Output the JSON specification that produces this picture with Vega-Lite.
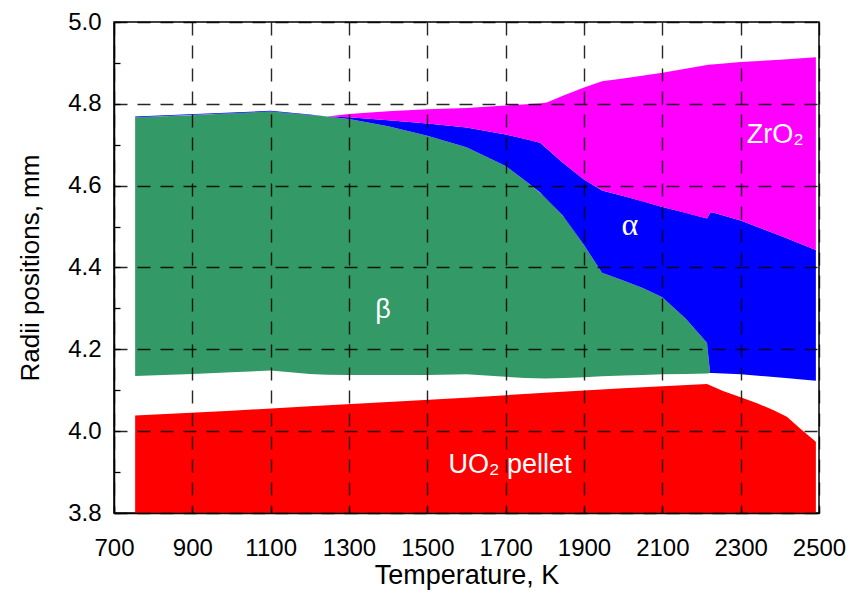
{
  "$schema": "https://vega.github.io/schema/vega-lite/v6.json",
  "width": 705,
  "height": 491,
  "autosize": {"type": "none"},
  "padding": {"left": 114, "top": 22, "right": 34, "bottom": 82},
  "background": "white",
  "config": {"view": {"stroke": "black", "strokeWidth": 1.5}, "font": "Liberation Sans"},
  "datasets": {
    "regions": [
      {"region": "UO2 pellet", "T": 754, "lo": 3.8, "hi": 4.038},
      {"region": "UO2 pellet", "T": 1000, "lo": 3.8, "hi": 4.050},
      {"region": "UO2 pellet", "T": 1200, "lo": 3.8, "hi": 4.061},
      {"region": "UO2 pellet", "T": 1400, "lo": 3.8, "hi": 4.071},
      {"region": "UO2 pellet", "T": 1609, "lo": 3.8, "hi": 4.082},
      {"region": "UO2 pellet", "T": 1800, "lo": 3.8, "hi": 4.094},
      {"region": "UO2 pellet", "T": 2000, "lo": 3.8, "hi": 4.105},
      {"region": "UO2 pellet", "T": 2214, "lo": 3.8, "hi": 4.115},
      {"region": "UO2 pellet", "T": 2255, "lo": 3.8, "hi": 4.098},
      {"region": "UO2 pellet", "T": 2300, "lo": 3.8, "hi": 4.083},
      {"region": "UO2 pellet", "T": 2342, "lo": 3.8, "hi": 4.068},
      {"region": "UO2 pellet", "T": 2383, "lo": 3.8, "hi": 4.052},
      {"region": "UO2 pellet", "T": 2418, "lo": 3.8, "hi": 4.035},
      {"region": "UO2 pellet", "T": 2451, "lo": 3.8, "hi": 4.007},
      {"region": "UO2 pellet", "T": 2492, "lo": 3.8, "hi": 3.974},

      {"region": "beta", "T": 754, "lo": 4.135, "hi": 4.767},
      {"region": "beta", "T": 900, "lo": 4.140, "hi": 4.772},
      {"region": "beta", "T": 1000, "lo": 4.144, "hi": 4.777},
      {"region": "beta", "T": 1100, "lo": 4.148, "hi": 4.781},
      {"region": "beta", "T": 1200, "lo": 4.140, "hi": 4.773},
      {"region": "beta", "T": 1244, "lo": 4.138, "hi": 4.769},
      {"region": "beta", "T": 1300, "lo": 4.137, "hi": 4.763},
      {"region": "beta", "T": 1400, "lo": 4.137, "hi": 4.745},
      {"region": "beta", "T": 1500, "lo": 4.137, "hi": 4.722},
      {"region": "beta", "T": 1600, "lo": 4.139, "hi": 4.694},
      {"region": "beta", "T": 1700, "lo": 4.133, "hi": 4.648},
      {"region": "beta", "T": 1750, "lo": 4.130, "hi": 4.612},
      {"region": "beta", "T": 1800, "lo": 4.129, "hi": 4.573},
      {"region": "beta", "T": 1850, "lo": 4.130, "hi": 4.523},
      {"region": "beta", "T": 1900, "lo": 4.132, "hi": 4.455},
      {"region": "beta", "T": 1946, "lo": 4.134, "hi": 4.387},
      {"region": "beta", "T": 2000, "lo": 4.136, "hi": 4.368},
      {"region": "beta", "T": 2050, "lo": 4.137, "hi": 4.350},
      {"region": "beta", "T": 2100, "lo": 4.139, "hi": 4.327},
      {"region": "beta", "T": 2160, "lo": 4.140, "hi": 4.275},
      {"region": "beta", "T": 2214, "lo": 4.141, "hi": 4.216},
      {"region": "beta", "T": 2222, "lo": 4.142, "hi": 4.142},

      {"region": "alpha", "T": 754, "lo": 4.767, "hi": 4.769},
      {"region": "alpha", "T": 1100, "lo": 4.781, "hi": 4.783},
      {"region": "alpha", "T": 1200, "lo": 4.773, "hi": 4.774},
      {"region": "alpha", "T": 1244, "lo": 4.769, "hi": 4.769},
      {"region": "alpha", "T": 1300, "lo": 4.763, "hi": 4.767},
      {"region": "alpha", "T": 1400, "lo": 4.745, "hi": 4.760},
      {"region": "alpha", "T": 1500, "lo": 4.722, "hi": 4.752},
      {"region": "alpha", "T": 1600, "lo": 4.694, "hi": 4.742},
      {"region": "alpha", "T": 1700, "lo": 4.648, "hi": 4.725},
      {"region": "alpha", "T": 1750, "lo": 4.612, "hi": 4.714},
      {"region": "alpha", "T": 1788, "lo": 4.583, "hi": 4.705},
      {"region": "alpha", "T": 1846, "lo": 4.527, "hi": 4.656},
      {"region": "alpha", "T": 1900, "lo": 4.455, "hi": 4.615},
      {"region": "alpha", "T": 1946, "lo": 4.387, "hi": 4.588},
      {"region": "alpha", "T": 2000, "lo": 4.368, "hi": 4.575},
      {"region": "alpha", "T": 2050, "lo": 4.350, "hi": 4.562},
      {"region": "alpha", "T": 2100, "lo": 4.327, "hi": 4.548},
      {"region": "alpha", "T": 2160, "lo": 4.275, "hi": 4.534},
      {"region": "alpha", "T": 2214, "lo": 4.216, "hi": 4.520},
      {"region": "alpha", "T": 2222, "lo": 4.142, "hi": 4.533},
      {"region": "alpha", "T": 2227, "lo": 4.142, "hi": 4.535},
      {"region": "alpha", "T": 2300, "lo": 4.139, "hi": 4.515},
      {"region": "alpha", "T": 2400, "lo": 4.131, "hi": 4.478},
      {"region": "alpha", "T": 2492, "lo": 4.123, "hi": 4.443},

      {"region": "ZrO2", "T": 1244, "lo": 4.769, "hi": 4.769},
      {"region": "ZrO2", "T": 1300, "lo": 4.767, "hi": 4.775},
      {"region": "ZrO2", "T": 1400, "lo": 4.760, "hi": 4.782},
      {"region": "ZrO2", "T": 1500, "lo": 4.752, "hi": 4.787},
      {"region": "ZrO2", "T": 1600, "lo": 4.742, "hi": 4.790},
      {"region": "ZrO2", "T": 1700, "lo": 4.725, "hi": 4.796},
      {"region": "ZrO2", "T": 1788, "lo": 4.705, "hi": 4.801},
      {"region": "ZrO2", "T": 1805, "lo": 4.691, "hi": 4.803},
      {"region": "ZrO2", "T": 1846, "lo": 4.656, "hi": 4.820},
      {"region": "ZrO2", "T": 1900, "lo": 4.615, "hi": 4.840},
      {"region": "ZrO2", "T": 1946, "lo": 4.588, "hi": 4.855},
      {"region": "ZrO2", "T": 2000, "lo": 4.575, "hi": 4.862},
      {"region": "ZrO2", "T": 2100, "lo": 4.548, "hi": 4.876},
      {"region": "ZrO2", "T": 2214, "lo": 4.520, "hi": 4.895},
      {"region": "ZrO2", "T": 2222, "lo": 4.533, "hi": 4.896},
      {"region": "ZrO2", "T": 2227, "lo": 4.535, "hi": 4.896},
      {"region": "ZrO2", "T": 2300, "lo": 4.515, "hi": 4.902},
      {"region": "ZrO2", "T": 2400, "lo": 4.478, "hi": 4.908},
      {"region": "ZrO2", "T": 2492, "lo": 4.443, "hi": 4.914}
    ]
  },
  "layer": [
    {
      "data": {"name": "regions"},
      "mark": {"type": "area", "interpolate": "linear"},
      "encoding": {
        "x": {
          "field": "T", "type": "quantitative",
          "scale": {"domain": [700, 2500], "nice": false, "zero": false},
          "title": "Temperature, K",
          "axis": {
            "values": [700, 800, 900, 1000, 1100, 1200, 1300, 1400, 1500, 1600, 1700, 1800, 1900, 2000, 2100, 2200, 2300, 2400, 2500],
            "format": "d",
            "labelExpr": "datum.value % 200 === 100 ? datum.label : ''",
            "tickSize": -6, "tickColor": "black", "tickWidth": 1.3,
            "domainColor": "black", "domainWidth": 1.5,
            "grid": true, "gridColor": "black", "gridDash": [13, 10], "gridWidth": 1.4,
            "gridOpacity": {"condition": {"test": "datum.value % 200 === 100", "value": 0.85}, "value": 0},
            "labelFontSize": 24, "labelColor": "black", "labelPadding": 29,
            "labelFlush": false, "labelOverlap": false,
            "titleFontSize": 27, "titleColor": "black", "titleFontWeight": "normal", "titlePadding": 2,
            "zindex": 1
          }
        },
        "y": {
          "field": "lo", "type": "quantitative",
          "scale": {"domain": [3.8, 5.0], "nice": false, "zero": false},
          "title": "Radii positions, mm",
          "axis": {
            "values": [3.8, 3.9, 4.0, 4.1, 4.2, 4.3, 4.4, 4.5, 4.6, 4.7, 4.8, 4.9, 5.0],
            "labelExpr": "round(datum.value * 10) % 2 === 0 ? format(datum.value, '.1f') : ''",
            "tickSize": -6, "tickColor": "black", "tickWidth": 1.3,
            "domainColor": "black", "domainWidth": 1.5,
            "grid": true, "gridColor": "black", "gridDash": [13, 10], "gridWidth": 1.4,
            "gridOpacity": {"condition": {"test": "round(datum.value * 10) % 2 === 0", "value": 0.85}, "value": 0},
            "labelFontSize": 24, "labelColor": "black", "labelPadding": 19,
            "labelFlush": false, "labelOverlap": false,
            "titleFontSize": 26, "titleColor": "black", "titleFontWeight": "normal", "titlePadding": 24,
            "zindex": 1
          }
        },
        "y2": {"field": "hi"},
        "color": {
          "field": "region", "type": "nominal",
          "scale": {"domain": ["UO2 pellet", "beta", "alpha", "ZrO2"], "range": ["#ff0000", "#339966", "#0000ff", "#ff00ff"]},
          "legend": null
        }
      }
    },
    {
      "data": {"values": [
        {"label": "ZrO₂", "T": 2388, "r": 4.724},
        {"label": "β", "T": 1387, "r": 4.296},
        {"label": "UO₂ pellet", "T": 1711, "r": 3.917}
      ]},
      "mark": {"type": "text", "font": "Liberation Sans", "fontSize": 27, "color": "white", "align": "center", "baseline": "middle"},
      "encoding": {
        "x": {"field": "T", "type": "quantitative"},
        "y": {"field": "r", "type": "quantitative"},
        "text": {"field": "label"}
      }
    },
    {
      "data": {"values": [
        {"label": "α", "T": 2017, "r": 4.504}
      ]},
      "mark": {"type": "text", "font": "Liberation Serif", "fontSize": 32, "color": "white", "align": "center", "baseline": "middle"},
      "encoding": {
        "x": {"field": "T", "type": "quantitative"},
        "y": {"field": "r", "type": "quantitative"},
        "text": {"field": "label"}
      }
    }
  ]
}
